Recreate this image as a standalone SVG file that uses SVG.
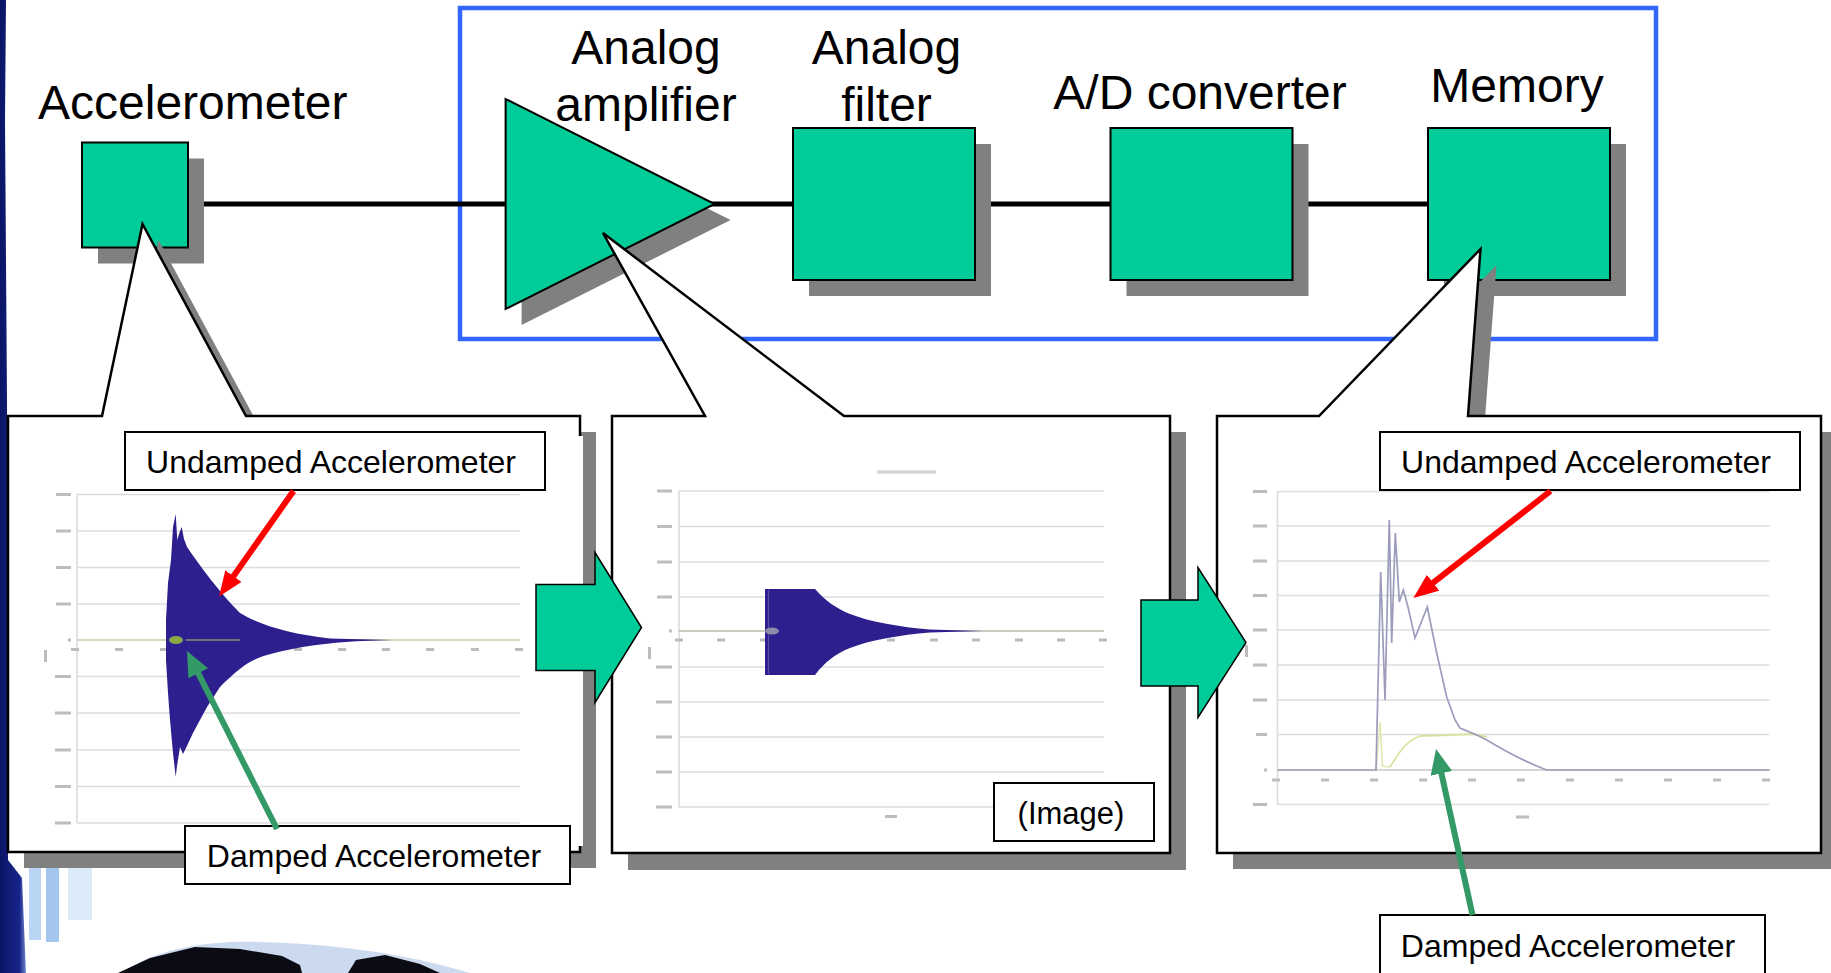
<svg xmlns="http://www.w3.org/2000/svg" width="1831" height="973" viewBox="0 0 1831 973">
<defs>
<style>
.lbl{font-family:"Liberation Sans",Arial,Helvetica,sans-serif;font-size:48px;fill:#000}
.cl{font-family:"Liberation Sans",Arial,Helvetica,sans-serif;font-size:32px;fill:#000}
.node{fill:#00CC99;stroke:#000;stroke-width:2}
.shadow{fill:#808080}
.callout{fill:#fff;stroke:#000;stroke-width:2.5}
.lab{fill:#fff;stroke:#000;stroke-width:2}
.grid{stroke:#DCDCDC;stroke-width:1.6;fill:none}
.tick{fill:#BDBDBD}
.blk{fill:#00CC99;stroke:#000;stroke-width:1.5}
</style>
<marker id="redHead" markerUnits="userSpaceOnUse" markerWidth="26" markerHeight="22" refX="1" refY="10" orient="auto">
<path d="M0,0 L25,10 L0,20 Z" fill="#FF0000"/>
</marker>
<marker id="greenHead" markerUnits="userSpaceOnUse" markerWidth="26" markerHeight="24" refX="1" refY="11" orient="auto">
<path d="M0,0 L25,11 L0,22 Z" fill="#339966"/>
</marker>
<linearGradient id="navy" x1="0" y1="0" x2="1" y2="0">
<stop offset="0" stop-color="#0B1566"/>
<stop offset="0.75" stop-color="#17258A"/>
<stop offset="1" stop-color="#6F8CD0"/>
</linearGradient>
</defs>

<g id="background">
<rect x="0" y="0" width="1831" height="973" fill="#fff"/>
<path d="M0,0 L6,0 L5,120 L7,400 L8,860 L22,878 L26,973 L0,973 Z" fill="url(#navy)"/>
<rect x="29" y="858" width="12" height="82" fill="#A9C9F0" opacity="0.8"/>
<rect x="46" y="866" width="13" height="76" fill="#8DB6EA" opacity="0.8"/>
<rect x="68" y="860" width="24" height="60" fill="#D3E3F7" opacity="0.8"/>
<path d="M140,962 C170,948 210,940 260,942 C330,944 400,952 470,973 L120,973 Z" fill="#B9CDEA" opacity="0.75"/>
<path d="M118,973 L150,958 L195,947 L240,949 L282,956 L300,965 L302,973 Z" fill="#0B0B14"/>
<path d="M348,973 L356,960 L385,955 L420,964 L440,973 Z" fill="#0B0B14"/>
</g>

<g id="frame">
<rect x="460" y="8" width="1196" height="331" fill="none" stroke="#3366FF" stroke-width="4.5"/>
</g>

<g id="connectors">
<line x1="188" y1="204" x2="1428" y2="204" stroke="#000" stroke-width="5"/>
</g>

<g id="accelerometer">
<rect class="shadow" x="98" y="158.5" width="106" height="105"/>
<rect class="node" x="82" y="142.5" width="106" height="105"/>
<text class="lbl" x="38" y="119">Accelerometer</text>
</g>

<g id="amplifier">
<polygon class="shadow" points="521.6,115 521.6,325 730.6,220"/>
<polygon class="node" points="505.6,99 505.6,309 714.6,204"/>
<text class="lbl" text-anchor="middle" x="646" y="64">Analog</text>
<text class="lbl" text-anchor="middle" x="646" y="121">amplifier</text>
</g>

<g id="filter">
<rect class="shadow" x="809" y="144" width="182" height="152"/>
<rect class="node" x="793" y="128" width="182" height="152"/>
<text class="lbl" text-anchor="middle" x="886.5" y="64">Analog</text>
<text class="lbl" text-anchor="middle" x="886.5" y="121">filter</text>
</g>

<g id="adconverter">
<rect class="shadow" x="1126.5" y="144" width="182" height="152"/>
<rect class="node" x="1110.5" y="128" width="182" height="152"/>
<text class="lbl" text-anchor="middle" x="1200" y="109">A/D converter</text>
</g>

<g id="memory">
<rect class="shadow" x="1444" y="144" width="182" height="152"/>
<rect class="node" x="1428" y="128" width="182" height="152"/>
<text class="lbl" text-anchor="middle" x="1517" y="102">Memory</text>
</g>

<!-- Left callout -->
<g id="callout-left">
<path class="shadow" d="M24,432 H118 L158.5,240 L262,432 H596 V868 H24 Z"/>
<path class="callout" d="M8,416 H102 L142.5,224 L246,416 H580 V852 H8 Z"/>
<rect x="578" y="436" width="5" height="410" fill="#fff"/>
<g class="grid">
<line x1="77" y1="494.5" x2="520" y2="494.5"/>
<line x1="77" y1="531" x2="520" y2="531"/>
<line x1="77" y1="567.5" x2="520" y2="567.5"/>
<line x1="77" y1="604" x2="520" y2="604"/>
<line x1="77" y1="676.5" x2="520" y2="676.5"/>
<line x1="77" y1="713" x2="520" y2="713"/>
<line x1="77" y1="750" x2="520" y2="750"/>
<line x1="77" y1="786.5" x2="520" y2="786.5"/>
<line x1="77" y1="823" x2="520" y2="823"/>
<line x1="77" y1="494" x2="77" y2="823"/>
</g>
<line x1="77" y1="640" x2="520" y2="640" stroke="#C9CFA0" stroke-width="1.6"/>
<g class="tick">
<rect x="56" y="493" width="15" height="3"/><rect x="56" y="529.5" width="15" height="3"/><rect x="56" y="566" width="15" height="3"/><rect x="56" y="602.5" width="15" height="3"/><rect x="68" y="638.5" width="3" height="3"/><rect x="55" y="675" width="16" height="3"/><rect x="55" y="711.5" width="16" height="3"/><rect x="55" y="748.5" width="16" height="3"/><rect x="55" y="785" width="16" height="3"/><rect x="55" y="821.5" width="16" height="3"/>
<rect x="44" y="650" width="3" height="12"/>
<rect x="71" y="648" width="8" height="3"/><rect x="115" y="648" width="8" height="3"/><rect x="160" y="648" width="8" height="3"/><rect x="294" y="648" width="8" height="3"/><rect x="338" y="648" width="8" height="3"/><rect x="382" y="648" width="8" height="3"/><rect x="426" y="648" width="8" height="3"/><rect x="471" y="648" width="8" height="3"/><rect x="515" y="648" width="8" height="3"/>
</g>
<path fill="#2E1F8F" d="M166,640 L166,620 L168,583 L171,560 L173,527 L175.7,514 L177.3,540 L179,534 L181.7,527 L184,539 L187,547 C200,566 220,593 240,613 C260,625 290,634 330,638.4 L392,640 L356,641.3 C330,643 300,646 267,655 C250,660 240,667 220,687 L207,707 L193,733 L186,748 L183,754 L180,747 L177,766 L175.7,777 L173,753 L170,720 L168,693 L166,660 Z"/>
<ellipse cx="176" cy="640" rx="7" ry="4" fill="#8DAA4A"/>
<line x1="186" y1="640" x2="240" y2="640" stroke="#9DA86A" stroke-width="1.5" opacity="0.8"/>
</g>

<!-- Middle callout -->
<g id="callout-middle">
<rect class="shadow" x="628" y="432" width="558" height="438"/>
<path class="callout" d="M612,416 H705 L603,233 L844,416 H1170 V853 H612 Z"/>
<rect x="877" y="470.5" width="59" height="3" fill="#D0D0D0"/>
<g class="grid">
<line x1="679" y1="491" x2="1104" y2="491"/>
<line x1="679" y1="526.5" x2="1104" y2="526.5"/>
<line x1="679" y1="562" x2="1104" y2="562"/>
<line x1="679" y1="597" x2="1104" y2="597"/>
<line x1="679" y1="667" x2="1104" y2="667"/>
<line x1="679" y1="702" x2="1104" y2="702"/>
<line x1="679" y1="737" x2="1104" y2="737"/>
<line x1="679" y1="772" x2="1104" y2="772"/>
<line x1="679" y1="807" x2="1104" y2="807"/>
<line x1="679" y1="491" x2="679" y2="807"/>
</g>
<line x1="679" y1="631" x2="1104" y2="631" stroke="#B8B8A8" stroke-width="1.6"/>
<g class="tick">
<rect x="657" y="489.5" width="15" height="3"/><rect x="657" y="525" width="15" height="3"/><rect x="657" y="560.5" width="15" height="3"/><rect x="657" y="595.5" width="15" height="3"/><rect x="669" y="629.5" width="3" height="3"/><rect x="656" y="665.5" width="16" height="3"/><rect x="656" y="700.5" width="16" height="3"/><rect x="656" y="735.5" width="16" height="3"/><rect x="656" y="770.5" width="16" height="3"/><rect x="656" y="805.5" width="16" height="3"/>
<rect x="648" y="647" width="3" height="12"/>
<rect x="675" y="638.5" width="8" height="3"/><rect x="717" y="638.5" width="8" height="3"/><rect x="760" y="638.5" width="8" height="3"/><rect x="887" y="638.5" width="8" height="3"/><rect x="930" y="638.5" width="8" height="3"/><rect x="972" y="638.5" width="8" height="3"/><rect x="1015" y="638.5" width="8" height="3"/><rect x="1057" y="638.5" width="8" height="3"/><rect x="1099" y="638.5" width="8" height="3"/>
<rect x="885" y="815" width="12" height="3"/>
</g>
<path fill="#2E1F8F" d="M765,632 L765,589 L815,589 C825,600 835,608 850,614 C870,622 900,627 930,629.5 L982,631 L930,632.5 C900,635 870,640 850,648 C835,654 825,662 815,675 L765,675 Z"/>
<line x1="768.5" y1="590" x2="768.5" y2="674" stroke="#5A4FA8" stroke-width="1.2"/>
<ellipse cx="772" cy="631" rx="7" ry="3.5" fill="#8C8CA8"/>
<rect class="lab" x="994" y="783" width="160" height="58"/>
<text class="cl" text-anchor="middle" x="1071" y="824" style="font-size:31px">(Image)</text>
</g>

<!-- Right callout -->
<g id="callout-right">
<path class="shadow" d="M1233,432 H1335 L1496.5,265 L1484,432 H1837 V869 H1233 Z"/>
<path class="callout" d="M1217,416 H1319 L1480.5,249 L1468,416 H1821 V853 H1217 Z"/>
<g class="grid">
<line x1="1277.5" y1="491.5" x2="1769.5" y2="491.5"/>
<line x1="1277.5" y1="526" x2="1769.5" y2="526"/>
<line x1="1277.5" y1="561" x2="1769.5" y2="561"/>
<line x1="1277.5" y1="595.5" x2="1769.5" y2="595.5"/>
<line x1="1277.5" y1="630" x2="1769.5" y2="630"/>
<line x1="1277.5" y1="665" x2="1769.5" y2="665"/>
<line x1="1277.5" y1="700" x2="1769.5" y2="700"/>
<line x1="1277.5" y1="734.5" x2="1769.5" y2="734.5"/>
<line x1="1277.5" y1="804.5" x2="1769.5" y2="804.5"/>
<line x1="1277.5" y1="491" x2="1277.5" y2="805"/>
</g>
<line x1="1277.5" y1="770" x2="1769.5" y2="770" stroke="#C8C8C8" stroke-width="1.6"/>
<g class="tick">
<rect x="1253" y="490" width="14" height="3"/><rect x="1253" y="524.5" width="14" height="3"/><rect x="1253" y="559.5" width="14" height="3"/><rect x="1253" y="594" width="14" height="3"/><rect x="1253" y="628.5" width="14" height="3"/><rect x="1253" y="663.5" width="14" height="3"/><rect x="1253" y="698.5" width="14" height="3"/><rect x="1256" y="733" width="11" height="3"/><rect x="1264" y="768.5" width="3" height="3"/><rect x="1253" y="803" width="14" height="3"/>
<rect x="1245" y="645" width="3" height="12"/>
<rect x="1272" y="778.5" width="8" height="3"/><rect x="1321" y="778.5" width="8" height="3"/><rect x="1370" y="778.5" width="8" height="3"/><rect x="1419" y="778.5" width="8" height="3"/><rect x="1468" y="778.5" width="8" height="3"/><rect x="1517" y="778.5" width="8" height="3"/><rect x="1566" y="778.5" width="8" height="3"/><rect x="1615" y="778.5" width="8" height="3"/><rect x="1664" y="778.5" width="8" height="3"/><rect x="1713" y="778.5" width="8" height="3"/><rect x="1762" y="778.5" width="8" height="3"/>
<rect x="1516" y="815.5" width="13" height="3"/>
</g>
<polyline fill="none" stroke="#E3E8B4" stroke-width="1.6" points="1277.5,770 1376,770 1380,722 1382.5,766 1390,767"/>
<path fill="none" stroke="#DCE2A2" stroke-width="1.8" d="M1390,767 C1398,755 1404,742 1420,736 L1450,735 L1473,734 L1487,737"/>
<path fill="none" stroke="#9C9CBC" stroke-width="1.7" d="M1277.5,770 L1376,770 L1380.7,572 L1385,700 L1389.3,520 L1391.7,643 L1395.3,533 L1399.3,602 L1403.3,590 L1408,607 L1415,638 L1427.3,607 L1436.7,653 L1446.7,697 L1455,720 L1460,728 L1476.7,735 L1486.7,740 C1500,748 1520,760 1546.7,770 L1769.5,770"/>
</g>

<!-- Labels and pointer arrows -->
<g id="label-left-undamped">
<rect class="lab" x="125" y="432" width="420" height="58"/>
<text class="cl" text-anchor="middle" x="331" y="473">Undamped Accelerometer</text>
</g>
<g id="label-left-damped">
<rect class="lab" x="185" y="826" width="385" height="58"/>
<text class="cl" text-anchor="middle" x="374" y="867">Damped Accelerometer</text>
</g>
<g id="label-right-undamped">
<rect class="lab" x="1380" y="432" width="420" height="58"/>
<text class="cl" text-anchor="middle" x="1586" y="473">Undamped Accelerometer</text>
</g>
<g id="label-right-damped">
<rect class="lab" x="1380" y="915" width="385" height="70"/>
<text class="cl" text-anchor="middle" x="1568" y="957">Damped Accelerometer</text>
</g>

<g id="pointer-arrows">
<line x1="293.5" y1="491" x2="232.9" y2="576.9" stroke="#FF0000" stroke-width="6" marker-end="url(#redHead)"/>
<line x1="277" y1="829" x2="197.8" y2="672.4" stroke="#339966" stroke-width="6" marker-end="url(#greenHead)"/>
<line x1="1550.5" y1="491" x2="1432.3" y2="583.3" stroke="#FF0000" stroke-width="6" marker-end="url(#redHead)"/>
<line x1="1472.5" y1="915" x2="1441.2" y2="772.4" stroke="#339966" stroke-width="6" marker-end="url(#greenHead)"/>
</g>

<g id="flow-arrows">
<polygon class="blk" points="536,584.5 595,584.5 595,552.5 641.5,627.5 595,702.5 595,670.5 536,670.5"/>
<polygon class="blk" points="1141,600 1198,600 1198,567.5 1246,642.5 1198,717.5 1198,686 1141,686"/>
</g>
</svg>
